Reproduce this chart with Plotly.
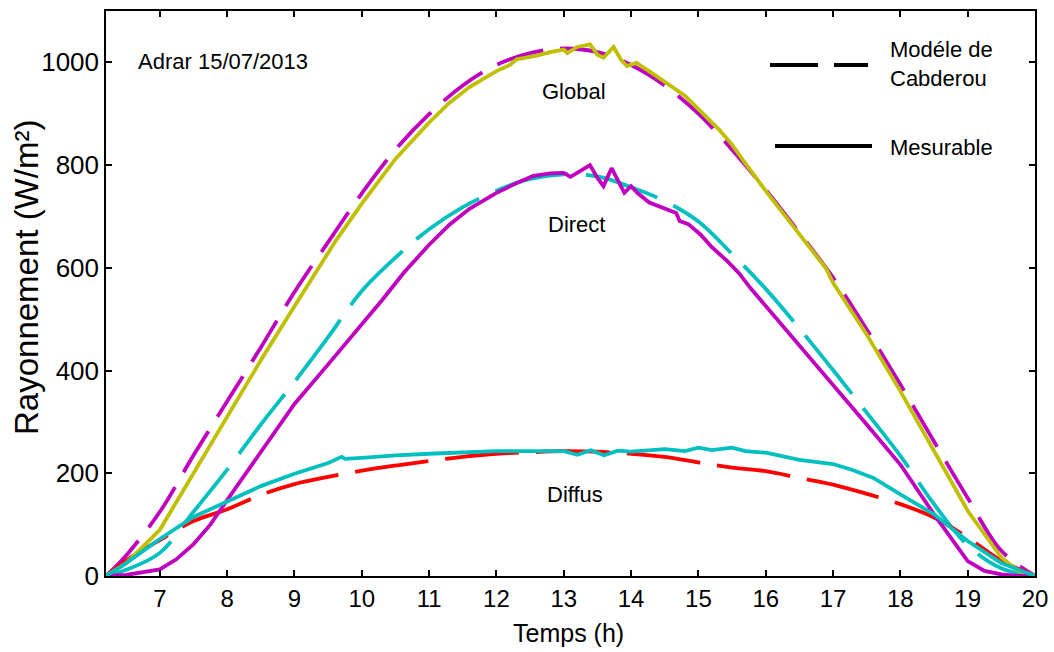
import plotly.graph_objects as go

# ---------------- data ----------------
t_model = [6.2, 6.5, 7, 7.5, 8, 8.5, 9, 9.5, 10, 10.5, 11, 11.5, 12, 12.5, 13,
           13.5, 14, 14.5, 15, 15.5, 16, 16.5, 17, 17.5, 18, 18.5, 19, 19.5, 20]
global_model = [0, 40, 125, 235, 340, 445, 553, 650, 745, 830, 899, 955, 995, 1018, 1027,
                1020, 995, 955, 900, 830, 752, 668, 581, 480, 373, 262, 152, 49, 0]
direct_model = [0, 12, 45, 125, 207, 295, 378, 465, 555, 620, 675, 718, 750, 773, 782,
                778, 757, 730, 690, 627, 559, 482, 401, 318, 234, 140, 60, 15, 0]
diffus_model = [0, 30, 70, 107, 130, 158, 179, 193, 205, 215, 224, 232, 238, 241, 243,
                242, 238, 232, 221, 211, 204, 191, 178, 160, 140, 114, 75, 30, 0]

t_glob = [6.2, 6.5, 7, 7.5, 8, 8.5, 9, 9.33, 9.6, 10, 10.5, 11, 11.3, 11.6, 12, 12.2, 12.3,
          12.6, 12.8, 13, 13.05, 13.2, 13.39, 13.5, 13.59, 13.74, 13.85, 13.94, 14.08, 14.3,
          14.53, 14.8, 15.03, 15.3, 15.5, 15.67, 16, 16.3, 16.7, 16.9, 17, 17.5, 18, 18.5,
          19, 19.5, 19.75, 20]
glob_meas = [0, 25, 90, 200, 308, 420, 525, 595, 650, 725, 812, 883, 921, 952, 983, 995,
             1006, 1013, 1020, 1025, 1018, 1030, 1035, 1015, 1009, 1030, 1005, 993, 999, 980,
             960, 935, 905, 870, 840, 808, 750, 700, 633, 598, 571, 470, 360, 245,
             127, 36, 10, 0]

t_dir = [6.2, 6.5, 7, 7.25, 7.5, 7.75, 8, 8.5, 9, 9.5, 9.83, 10, 10.3, 10.62, 11, 11.31,
         11.6, 12, 12.3, 12.55, 12.8, 13, 13.1, 13.25, 13.39, 13.5, 13.59, 13.71, 13.8,
         13.9, 14, 14.1, 14.27, 14.5, 14.67, 14.72, 14.85, 15.03, 15.2, 15.43, 15.6,
         15.77, 16, 16.5, 17, 17.5, 18, 18.5, 19, 19.25, 19.5, 19.75, 20]
dir_meas = [0, 2, 13, 33, 62, 100, 148, 240, 335, 412, 462, 490, 537, 590, 645, 685,
            715, 746, 765, 779, 784, 785, 777, 790, 800, 775, 759, 794, 770,
            746, 759, 745, 727, 715, 707, 691, 685, 665, 640, 613, 590,
            561, 526, 450, 373, 295, 217, 120, 29, 10, 3, 0, 0]

t_dif = [6.2, 6.5, 7, 7.5, 8, 8.5, 9, 9.5, 9.7, 9.75, 10, 10.5, 11, 11.5, 12, 12.5, 13,
         13.2, 13.4, 13.6, 13.8, 14, 14.3, 14.5, 14.8, 15, 15.2, 15.5, 15.7, 16, 16.5,
         17, 17.3, 17.6, 18, 18.5, 19, 19.5, 20]
dif_meas = [0, 25, 72, 115, 145, 175, 199, 220, 232, 228, 230, 235, 238, 240, 243, 243, 243,
            236, 245, 235, 244, 242, 245, 247, 243, 250, 245, 250, 243, 240, 226,
            218, 206, 191, 159, 120, 68, 25, 0]

x_ticks = list(range(7, 21))
y_ticks = [0, 200, 400, 600, 800, 1000]

MAG = "#BF00BF"
YEL = "#BFBF00"
CYA = "#00BFBF"
RED = "#FF0000"
FONT = "Liberation Sans, Arial, sans-serif"
LW = 3.8

fig = go.Figure()
fig.add_trace(go.Scatter(x=t_model, y=global_model, mode="lines",
                         line=dict(color=MAG, width=LW, dash="48px,17px", shape="spline")))
fig.add_trace(go.Scatter(x=t_model, y=direct_model, mode="lines",
                         line=dict(color=CYA, width=LW, dash="75px,18px", shape="spline")))
fig.add_trace(go.Scatter(x=t_model, y=diffus_model, mode="lines",
                         line=dict(color=RED, width=LW, dash="74px,17px", shape="spline")))
fig.add_trace(go.Scatter(x=t_glob, y=glob_meas, mode="lines",
                         line=dict(color=YEL, width=LW)))
fig.add_trace(go.Scatter(x=t_dir, y=dir_meas, mode="lines",
                         line=dict(color=MAG, width=LW)))
fig.add_trace(go.Scatter(x=t_dif, y=dif_meas, mode="lines",
                         line=dict(color=CYA, width=LW)))

def px_x(p):
    return (p - 106) / 929.0

def px_y(p):
    return (576 - p) / 565.0

shapes = [
    dict(type="line", xref="paper", yref="paper", x0=px_x(770), x1=px_x(818),
         y0=px_y(65), y1=px_y(65), line=dict(color="black", width=4)),
    dict(type="line", xref="paper", yref="paper", x0=px_x(834), x1=px_x(868),
         y0=px_y(65), y1=px_y(65), line=dict(color="black", width=4)),
    dict(type="line", xref="paper", yref="paper", x0=px_x(775), x1=px_x(872),
         y0=px_y(146), y1=px_y(146), line=dict(color="black", width=4)),
]

def label(px, py, text, size=22, anchor="center"):
    return dict(x=px_x(px), y=px_y(py), xref="paper", yref="paper", xanchor=anchor,
                yanchor="middle", align="left", showarrow=False, text=text,
                font=dict(size=size, color="black", family=FONT))

annotations = [
    label(888, 64, "Modéle de<br>Cabderou", 22, "left"),
    label(888, 147, "Mesurable", 22, "left"),
    label(136, 62, "Adrar 15/07/2013", 22, "left"),
    label(574, 92, "Global", 22),
    label(576, 224, "Direct", 22),
    label(575, 494, "Diffus", 22),
    dict(x=px_x(568), y=px_y(633), xref="paper", yref="paper", xanchor="center",
         yanchor="middle", showarrow=False, text="Temps (h)",
         font=dict(size=25, color="black", family=FONT)),
    dict(x=px_x(26), y=px_y(278), xref="paper", yref="paper", xanchor="center",
         yanchor="middle", showarrow=False, text="Rayonnement (W/m²)", textangle=-90,
         font=dict(size=33, color="black", family=FONT)),
]

fig.update_layout(
    width=1054, height=652,
    margin=dict(l=106, r=19, t=11, b=76),
    plot_bgcolor="white", paper_bgcolor="white",
    showlegend=False,
    font=dict(family=FONT, color="black"),
    shapes=shapes,
    annotations=annotations,
    xaxis=dict(range=[6.2, 20], tickmode="array", tickvals=x_ticks,
               ticktext=[str(v) for v in x_ticks], automargin=False,
               ticks="inside", ticklen=6, tickwidth=1.5, tickcolor="black",
               showline=True, linecolor="black", linewidth=1.5, mirror="ticks",
               showgrid=False, zeroline=False,
               tickfont=dict(size=24, family=FONT)),
    yaxis=dict(range=[0, 1100], tickmode="array", tickvals=y_ticks,
               ticktext=[str(v) for v in y_ticks], automargin=False,
               ticks="inside", ticklen=6, tickwidth=1.5, tickcolor="black",
               showline=True, linecolor="black", linewidth=1.5, mirror="ticks",
               showgrid=False, zeroline=True, zerolinecolor="#1F5A50", zerolinewidth=3,
               tickfont=dict(size=26, family=FONT)),
)

fig.write_html("out.html", config={"displayModeBar": False},
               post_script="document.body.style.margin='0';document.body.style.overflow='hidden';")
